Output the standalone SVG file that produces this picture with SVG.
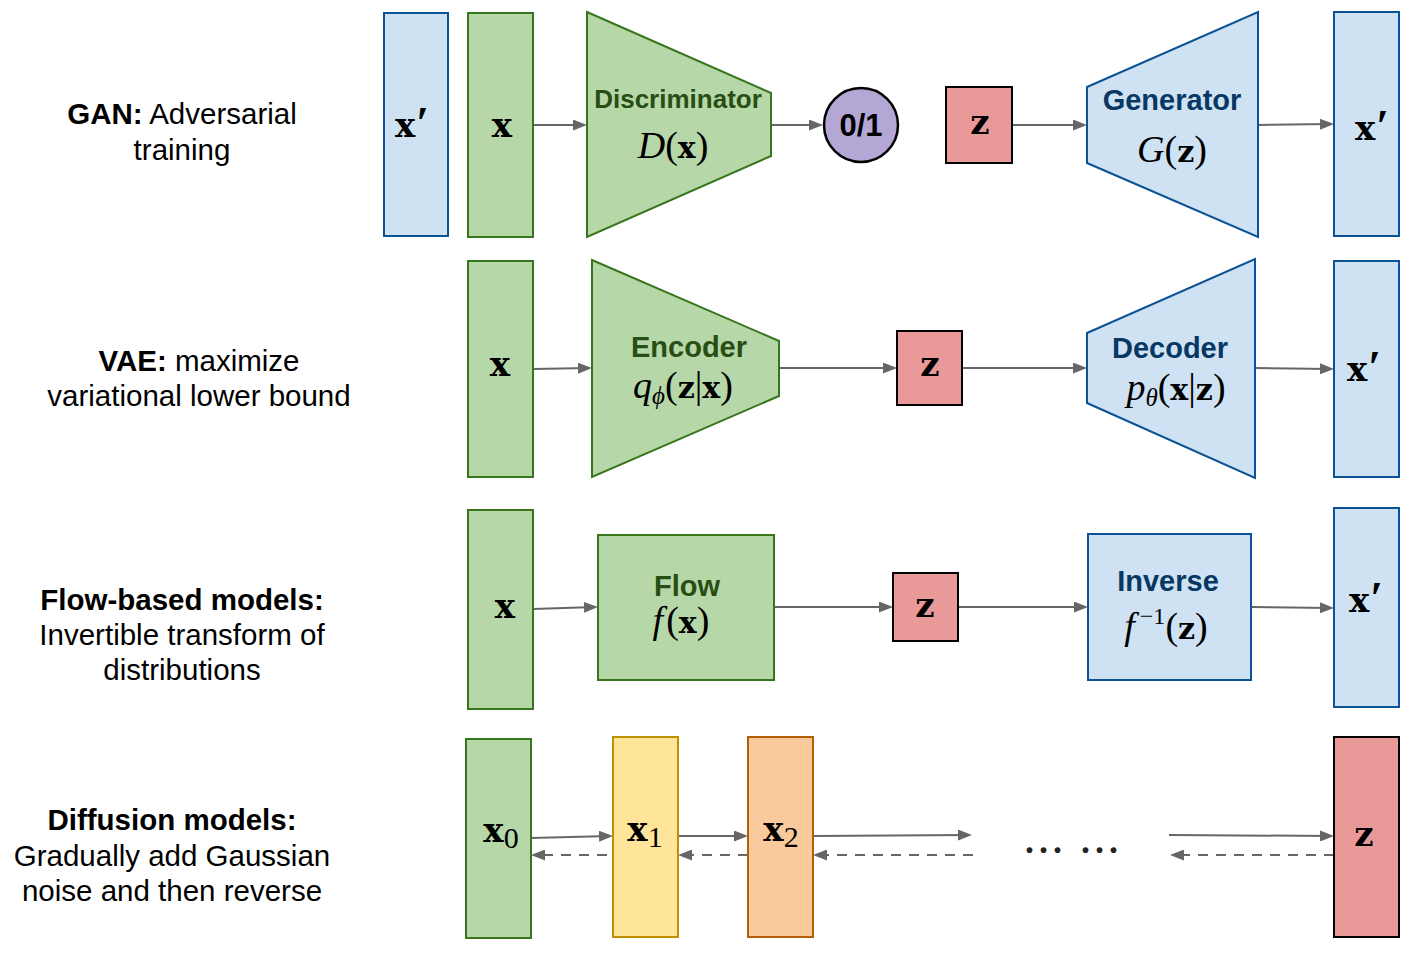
<svg xmlns="http://www.w3.org/2000/svg" width="1416" height="958" viewBox="0 0 1416 958">
<style>
.lbl{font-family:"Liberation Sans",Arial,sans-serif;font-size:29.5px;fill:#000;text-anchor:middle}
.b{font-weight:bold}
.g{fill:#b6d7a8;stroke:#38761d;stroke-width:2}
.bl{fill:#cfe2f3;stroke:#0b5394;stroke-width:2}
.r{fill:#ea9999;stroke:#000;stroke-width:2}
.y{fill:#ffe599;stroke:#bf9000;stroke-width:2}
.o{fill:#f9cb9c;stroke:#b45f06;stroke-width:2}
.hg{font-family:"Liberation Sans",Arial,sans-serif;font-weight:bold;font-size:29px;fill:#274e13;text-anchor:middle}
.hb{font-family:"Liberation Sans",Arial,sans-serif;font-weight:bold;font-size:29px;fill:#073763;text-anchor:middle}
.bx{font-family:"DejaVu Serif",serif;font-weight:bold;font-size:34px;fill:#000;text-anchor:middle}
.pr{font-family:"Liberation Serif",serif;font-weight:bold;font-size:46px}
.m{font-family:"Liberation Serif","DejaVu Serif",serif;font-size:38px;fill:#000;text-anchor:middle}
.mi{font-style:italic}
.mb{font-family:"DejaVu Serif",serif;font-weight:bold;font-size:30px}
.sub{font-family:"Liberation Serif","DejaVu Serif",serif;font-size:30px;font-weight:normal}
.ar{fill:none;stroke:#666;stroke-width:2;marker-end:url(#ah)}
.da{stroke-dasharray:10 8}
</style>
<defs>
<marker id="ah" viewBox="0 0 14 11" refX="11" refY="5.5" markerWidth="14" markerHeight="11" markerUnits="userSpaceOnUse" orient="auto">
<path d="M0,0 L14,5.5 L0,11 Z" fill="#666"/>
</marker>
</defs>
<rect width="1416" height="958" fill="#fff"/>

<g id="labels">
<text class="lbl" x="182" y="124"><tspan class="b">GAN:</tspan> Adversarial</text>
<text class="lbl" x="182" y="160">training</text>
<text class="lbl" x="199" y="371"><tspan class="b">VAE:</tspan> maximize</text>
<text class="lbl" x="199" y="406">variational lower bound</text>
<text class="lbl b" x="182" y="610">Flow-based models:</text>
<text class="lbl" x="182" y="645">Invertible transform of</text>
<text class="lbl" x="182" y="680">distributions</text>
<text class="lbl b" x="172" y="830">Diffusion models:</text>
<text class="lbl" x="172" y="866">Gradually add Gaussian</text>
<text class="lbl" x="172" y="901">noise and then reverse</text>
</g>

<g id="connectors">
<path class="ar" d="M533,125 L584,125"/>
<path class="ar" d="M771,125 L820,125"/>
<path class="ar" d="M1012,125 L1084,125"/>
<path class="ar" d="M1258,125 L1331,124"/>
<path class="ar" d="M533,369 L589,368"/>
<path class="ar" d="M779,368 L894,368"/>
<path class="ar" d="M962,368 L1084,368"/>
<path class="ar" d="M1255,368 L1331,369"/>
<path class="ar" d="M533,609 L595,607"/>
<path class="ar" d="M774,607 L890,607"/>
<path class="ar" d="M958,607 L1085,607"/>
<path class="ar" d="M1251,607 L1331,608"/>
<path class="ar" d="M531,838 L610,836"/>
<path class="ar da" d="M607,855 L534,855"/>
<path class="ar" d="M678,836 L745,836"/>
<path class="ar da" d="M748,855 L681,855"/>
<path class="ar" d="M813,836 L969,835"/>
<path class="ar da" d="M973,855 L816,855"/>
<path class="ar" d="M1169,835 L1331,836"/>
<path class="ar da" d="M1334,855 L1173,855"/>
</g>

<g id="gan-xprime-in">
<rect class="bl" x="384" y="13" width="64" height="223"/>
<text class="bx" x="412" y="137">x<tspan class="pr" dx="1" dy="2">′</tspan></text>
</g>
<g id="gan-x">
<rect class="g" x="468" y="13" width="65" height="224"/>
<text class="bx" x="502" y="137">x</text>
</g>
<g id="gan-discriminator">
<polygon class="g" points="587,12 771,93 771,156 587,237"/>
<text class="hg" x="678" y="108" style="font-size:26px">Discriminator</text>
<text class="m" x="673" y="158"><tspan class="mi">D</tspan>(<tspan class="mb">x</tspan>)</text>
</g>
<g id="gan-output">
<circle cx="861" cy="125" r="37" fill="#b4a7d6" stroke="#000" stroke-width="2.5"/>
<text x="861" y="136" style="font-family:'Liberation Sans',Arial,sans-serif;font-weight:bold;font-size:31px;text-anchor:middle;fill:#000">0/1</text>
</g>
<g id="gan-z">
<rect class="r" x="946" y="87" width="66" height="76"/>
<text class="bx" x="980" y="134">z</text>
</g>
<g id="gan-generator">
<polygon class="bl" points="1087,87 1258,12 1258,237 1087,163"/>
<text class="hb" x="1172" y="110">Generator</text>
<text class="m" x="1172" y="162"><tspan class="mi">G</tspan>(<tspan class="mb">z</tspan>)</text>
</g>
<g id="gan-xprime-out">
<rect class="bl" x="1334" y="12" width="65" height="224"/>
<text class="bx" x="1372" y="140">x<tspan class="pr" dx="1" dy="2">′</tspan></text>
</g>

<g id="vae-x">
<rect class="g" x="468" y="261" width="65" height="216"/>
<text class="bx" x="500" y="376">x</text>
</g>
<g id="vae-encoder">
<polygon class="g" points="592,260 779,341 779,396 592,477"/>
<text class="hg" x="689" y="357">Encoder</text>
<text class="m" x="683" y="398"><tspan class="mi">q</tspan><tspan class="mi" style="font-size:25px" dy="6">ϕ</tspan><tspan dy="-6">(</tspan><tspan class="mb">z</tspan>|<tspan class="mb">x</tspan>)</text>
</g>
<g id="vae-z">
<rect class="r" x="897" y="331" width="65" height="74"/>
<text class="bx" x="930" y="376">z</text>
</g>
<g id="vae-decoder">
<polygon class="bl" points="1087,333 1255,259 1255,478 1087,403"/>
<text class="hb" x="1170" y="358">Decoder</text>
<text class="m" x="1176" y="400"><tspan class="mi">p</tspan><tspan class="mi" style="font-size:25px" dy="6">θ</tspan><tspan dy="-6">(</tspan><tspan class="mb">x</tspan>|<tspan class="mb">z</tspan>)</text>
</g>
<g id="vae-xprime">
<rect class="bl" x="1334" y="261" width="65" height="216"/>
<text class="bx" x="1364" y="381">x<tspan class="pr" dx="1" dy="2">′</tspan></text>
</g>

<g id="flow-x">
<rect class="g" x="468" y="510" width="65" height="199"/>
<text class="bx" x="505" y="618">x</text>
</g>
<g id="flow-f">
<rect class="g" x="598" y="535" width="176" height="145"/>
<text class="hg" x="687" y="596">Flow</text>
<text class="m" x="681" y="633"><tspan class="mi">f</tspan><tspan dx="3">(</tspan><tspan class="mb">x</tspan>)</text>
</g>
<g id="flow-z">
<rect class="r" x="893" y="573" width="65" height="68"/>
<text class="bx" x="925" y="617">z</text>
</g>
<g id="flow-inverse">
<rect class="bl" x="1088" y="534" width="163" height="146"/>
<text class="hb" x="1168" y="591">Inverse</text>
<text class="m" x="1166" y="639"><tspan class="mi">f</tspan><tspan style="font-size:24px" dx="5" dy="-15">−1</tspan><tspan dy="15">(</tspan><tspan class="mb">z</tspan>)</text>
</g>
<g id="flow-xprime">
<rect class="bl" x="1334" y="508" width="65" height="199"/>
<text class="bx" x="1366" y="612">x<tspan class="pr" dx="1" dy="2">′</tspan></text>
</g>

<g id="diff-x0">
<rect class="g" x="466" y="739" width="65" height="199"/>
<text class="bx" x="501" y="842">x<tspan class="sub" dy="6">0</tspan></text>
</g>
<g id="diff-x1">
<rect class="y" x="613" y="737" width="65" height="200"/>
<text class="bx" x="645" y="841">x<tspan class="sub" dy="6">1</tspan></text>
</g>
<g id="diff-x2">
<rect class="o" x="748" y="737" width="65" height="200"/>
<text class="bx" x="781" y="841">x<tspan class="sub" dy="6">2</tspan></text>
</g>
<g id="diff-dots">
<text x="1025" y="853" style="font-family:'Liberation Serif',serif;font-weight:bold;font-size:36px;fill:#222;letter-spacing:5px">... ...</text>
</g>
<g id="diff-z">
<rect class="r" x="1334" y="737" width="65" height="200"/>
<text class="bx" x="1364" y="846">z</text>
</g>
</svg>
